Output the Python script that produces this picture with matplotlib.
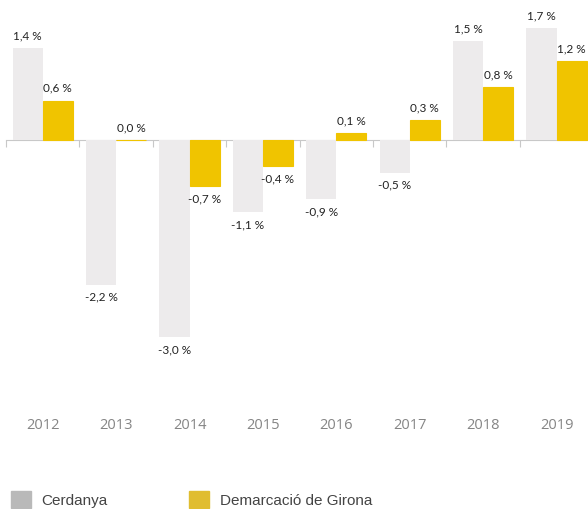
import matplotlib.pyplot as plt
import numpy as np
from matplotlib.patches import Patch

years = ["2012", "2013", "2014", "2015", "2016", "2017", "2018", "2019"]
cerdanya = [1.4, -2.2, -3.0, -1.1, -0.9, -0.5, 1.5, 1.7]
girona = [0.6, 0.0, -0.7, -0.4, 0.1, 0.3, 0.8, 1.2]

GREY_BAR = "#EDEBEC"
GOLD_BAR = "#F0C400"
GREY_KEY = "#B9B9B9"
GOLD_KEY = "#E0BD30"


def pct(v):
    return f"{v:.1f} %".replace(".", ",")


def main():
    fig = plt.figure(figsize=(5.88, 5.09), dpi=100)
    ax = fig.add_axes([6 / 588, 0.2731, 587.2 / 588, 0.697])

    x = np.arange(len(years))
    w = 0.41
    ax.bar(x - w / 2, cerdanya, w, color=GREY_BAR, linewidth=0, zorder=3)
    ax.bar(x + w / 2, girona, w, color=GOLD_BAR, edgecolor=GOLD_BAR,
           linewidth=0.8, zorder=3)

    label_font = dict(family="Lato", size=8.5, color="#222222")
    for xs, vals in ((x - w / 2, cerdanya), (x + w / 2, girona)):
        for xi, v in zip(xs, vals):
            up = v >= 0
            ax.annotate(pct(v), (xi, v), xytext=(0, 5 if up else -5),
                        textcoords="offset points", ha="center",
                        va="bottom" if up else "top", **label_font)

    for xi, yr in zip(x, years):
        ax.text(xi, -4.34, yr, ha="center", va="center", family="Open Sans",
                size=10.5, color="#858585", clip_on=False)

    ax.set_xlim(-0.5, len(years) - 0.5)
    ax.set_ylim(-3.5, 1.9)
    for side in ("top", "right", "left"):
        ax.spines[side].set_visible(False)
    ax.spines["bottom"].set_position(("data", 0))
    ax.spines["bottom"].set_color("#C8C8C8")
    ax.set_xticks(np.arange(len(years)) - 0.5)
    ax.tick_params(axis="x", direction="out", length=5, color="#C8C8C8",
                   labelbottom=False)
    ax.set_yticks([])

    handles = [Patch(color=GREY_KEY, label="Cerdanya"),
               Patch(color=GOLD_KEY, label="Demarcació de Girona")]
    fig.legend(handles=handles, loc="lower left", bbox_to_anchor=(3 / 588, -0.013),
               ncol=2, frameon=False, borderpad=0,
               prop=dict(family="Liberation Sans", size=11),
               handlelength=1.3, handleheight=1.3, handletextpad=0.72,
               columnspacing=5.3, labelcolor="#444444")

    fig.savefig("out.png", dpi=100)


if __name__ == "__main__":
    main()
